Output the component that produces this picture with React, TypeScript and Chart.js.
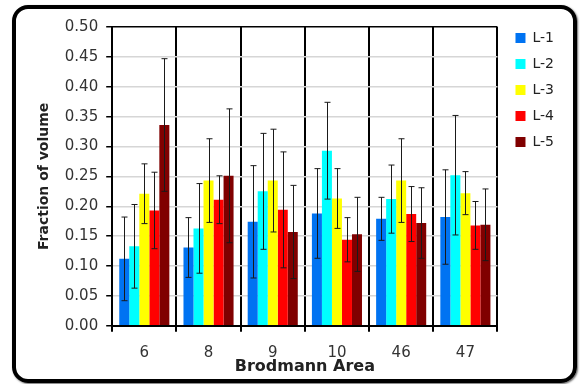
import React, { useEffect, useRef } from "react";
import { Chart, registerables } from "chart.js";

Chart.register(...registerables);

const categories = ["6", "8", "9", "10", "46", "47"];
const seriesNames = ["L-1", "L-2", "L-3", "L-4", "L-5"];

const l1Values = [0.112, 0.131, 0.174, 0.188, 0.179, 0.182];
const l2Values = [0.133, 0.163, 0.225, 0.293, 0.212, 0.252];
const l3Values = [0.221, 0.243, 0.243, 0.213, 0.243, 0.222];
const l4Values = [0.193, 0.211, 0.194, 0.144, 0.187, 0.168];
const l5Values = [0.336, 0.251, 0.157, 0.153, 0.172, 0.169];

const l1Errors = [0.07, 0.05, 0.094, 0.075, 0.036, 0.079];
const l2Errors = [0.07, 0.075, 0.097, 0.081, 0.057, 0.1];
const l3Errors = [0.05, 0.07, 0.086, 0.05, 0.07, 0.036];
const l4Errors = [0.064, 0.04, 0.097, 0.037, 0.046, 0.04];
const l5Errors = [0.111, 0.112, 0.078, 0.062, 0.059, 0.06];

const seriesValues = [l1Values, l2Values, l3Values, l4Values, l5Values];
const seriesErrors = [l1Errors, l2Errors, l3Errors, l4Errors, l5Errors];
const seriesColors = ["#0073F2", "#00FFFF", "#FFFF00", "#FF0000", "#800000"];

const errorBarPlugin = {
  id: "errorBars",
  afterDatasetsDraw(chart: any) {
    const ctx = chart.ctx;
    const yScale = chart.scales.y;
    ctx.save();
    ctx.strokeStyle = "#1a1a1a";
    ctx.lineWidth = 1;
    chart.data.datasets.forEach((ds: any, di: number) => {
      const meta = chart.getDatasetMeta(di);
      meta.data.forEach((bar: any, i: number) => {
        const v = ds.data[i];
        const e = ds.errors[i];
        const x = Math.round(bar.x) + 0.5;
        const yt = yScale.getPixelForValue(v + e);
        const yb = yScale.getPixelForValue(v - e);
        ctx.beginPath();
        ctx.moveTo(x, yt);
        ctx.lineTo(x, yb);
        ctx.moveTo(x - 3, yt);
        ctx.lineTo(x + 3, yt);
        ctx.moveTo(x - 3, yb);
        ctx.lineTo(x + 3, yb);
        ctx.stroke();
      });
    });
    ctx.restore();
  },
};

export default function App() {
  const ref = useRef<HTMLCanvasElement>(null);
  useEffect(() => {
    if (!ref.current) return;
    const chart = new Chart(ref.current, {
      type: "bar",
      data: {
        labels: categories,
        datasets: seriesNames.map((name, i) => ({
          label: name,
          data: seriesValues[i],
          errors: seriesErrors[i],
          backgroundColor: seriesColors[i],
          borderWidth: 0,
          categoryPercentage: 0.78,
          barPercentage: 1.0,
        })) as any,
      },
      options: {
        animation: false,
        responsive: false,
        layout: { padding: { left: 36, right: 18, top: 19, bottom: 8 } },
        plugins: {
          tooltip: { enabled: false },
          title: {
            display: true,
            text: " ",
            fullSize: false,
            padding: 0,
            font: { size: 7.5, lineHeight: "8px" },
          },
          legend: {
            position: "right",
            align: "start",
            labels: {
              boxWidth: 10,
              boxHeight: 10,
              padding: 12,
              color: "#222",
              font: { family: "DejaVu Sans", size: 14 },
            },
          },
        },
        scales: {
          x: {
            grid: {
              offset: true,
              color: "#000",
              lineWidth: 2,
              tickLength: 6,
              tickColor: "#000",
            },
            border: { color: "#000", width: 2 },
            ticks: {
              color: "#333",
              padding: 12,
              font: { family: "DejaVu Sans", size: 15 },
            },
            title: {
              display: true,
              text: "Brodmann Area",
              color: "#222",
              padding: { top: -17, bottom: 0 },
              font: { family: "DejaVu Sans", size: 16, weight: "bold" },
            },
          },
          y: {
            min: 0,
            max: 0.5,
            ticks: {
              stepSize: 0.05,
              color: "#333",
              padding: 8,
              font: { family: "DejaVu Sans", size: 15 },
              callback: (v: any) => Number(v).toFixed(2),
            },
            grid: {
              color: (c: any) => (c.tick && Math.abs(c.tick.value - 0.5) < 1e-9 ? "#000" : "#d6d6d6"),
              lineWidth: 1.5,
              tickLength: 6,
              tickColor: "#000",
            },
            border: { color: "#000", width: 2 },
            title: {
              display: true,
              text: "Fraction of volume",
              color: "#222",
              padding: { top: 0, bottom: 4 },
              font: { family: "DejaVu Sans", size: 14, weight: "bold" },
            },
          },
          gap: {
            type: "linear",
            position: "right",
            display: true,
            grid: { display: false, drawTicks: false },
            border: { display: false },
            ticks: { display: false },
            afterFit: (s: any) => {
              s.width = 6;
            },
          },
        },
      } as any,
      plugins: [errorBarPlugin],
    });
    return () => chart.destroy();
  }, []);

  return (
    <div style={{ position: "fixed", left: 0, top: 0, width: 582, height: 384, background: "#fff" }}>
      <canvas ref={ref} width={582} height={384} style={{ position: "absolute", left: 0, top: 0 }} />
      <div
        style={{
          position: "absolute",
          left: 12,
          top: 5,
          width: 557,
          height: 370,
          border: "4px solid #000",
          borderRadius: 16,
          boxShadow: "1px 1px 2px #666",
          pointerEvents: "none",
        }}
      />
    </div>
  );
}
